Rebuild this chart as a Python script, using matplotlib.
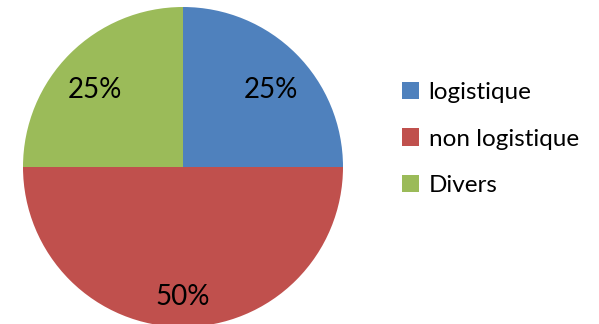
import matplotlib.pyplot as plt
import numpy as np

# Data
labels = ["logistique", "non logistique", "Divers"]
values = [25, 50, 25]
colors = ["#4F81BD", "#C0504D", "#9BBB59"]

plt.rcParams["font.family"] = ["Lato", "DejaVu Sans"]

fig = plt.figure(figsize=(5.99, 3.24), dpi=100)
# pie centre at (183, 167) px, radius 160 px
ax = fig.add_axes([23 / 599, (324 - 327) / 324, 320 / 599, 320 / 324])

wedges, texts, autotexts = ax.pie(
    values,
    colors=colors,
    startangle=90,
    counterclock=False,
    radius=1.0,
    autopct="%1.0f%%",
    textprops={"fontsize": 20, "color": "black"},
)
# label placement roughly like Excel's "best fit"
for w, t in zip(wedges, autotexts):
    ang = np.deg2rad((w.theta1 + w.theta2) / 2)
    if w.theta2 - w.theta1 > 120:
        t.set_position((0.81 * np.cos(ang), 0.81 * np.sin(ang)))
    else:
        t.set_position((0.78 * np.cos(ang), 0.74 * np.sin(ang) - 0.04))

ax.set_xlim(-1, 1)
ax.set_ylim(-1, 1)
ax.set_aspect("equal")
ax.axis("off")

fig.legend(
    wedges,
    labels,
    loc="center left",
    bbox_to_anchor=(402 / 599, 1 - 139 / 324),
    frameon=False,
    fontsize=17.5,
    handlelength=0.7,
    handleheight=0.7,
    handletextpad=0.4,
    labelspacing=1.05,
    borderpad=0,
    borderaxespad=0,
)

fig.savefig("out.png", dpi=100)
